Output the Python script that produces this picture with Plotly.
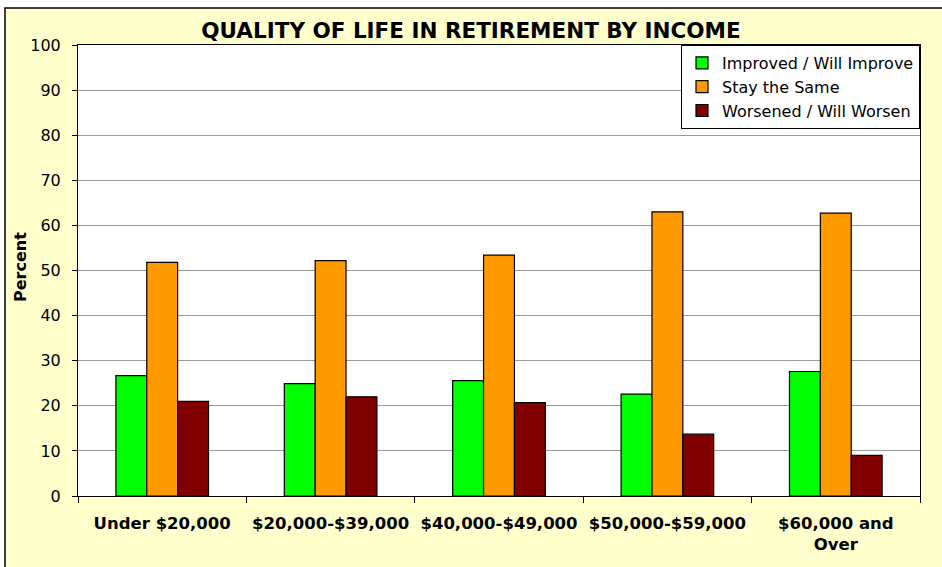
import plotly.graph_objects as go

categories = ["Under $20,000", "$20,000-$39,000", "$40,000-$49,000", "$50,000-$59,000", "$60,000 and<br>Over"]
improved = [26.7, 24.9, 25.6, 22.6, 27.6]
same = [51.8, 52.2, 53.4, 63.0, 62.7]
worsened = [21.0, 22.0, 20.7, 13.7, 9.0]

series_names = ["Improved / Will Improve", "Stay the Same", "Worsened / Will Worsen"]
series_values = [improved, same, worsened]
series_colors = ["#00FF00", "#FF9900", "#800000"]

W, H = 942, 567
L, R, T, B = 78, 920, 45, 496
pw, ph = R - L, B - T

def px_x(p):
    return (p - L) / pw

def px_y(p):
    return (B - p) / ph

fig = go.Figure()
for i, (name, vals, col) in enumerate(zip(series_names, series_values, series_colors)):
    fig.add_trace(go.Bar(
        x=categories, y=vals, name=name,
        marker=dict(color=col, line=dict(color="black", width=1.2)),
    ))

font_family = "DejaVu Sans, Arial, sans-serif"

fig.update_layout(
    width=W, height=H,
    margin=dict(l=L, r=W - R, t=T, b=H - B, pad=0),
    paper_bgcolor="white",
    plot_bgcolor="white",
    barmode="group",
    bargap=0.45,
    bargroupgap=0,
    font=dict(family=font_family, color="black"),
    title=dict(
        text="<b>QUALITY OF LIFE IN RETIREMENT BY INCOME</b>",
        x=0.5, xref="container", xanchor="center",
        y=1 - 30 / H, yref="container", yanchor="middle",
        font=dict(size=21.5, family=font_family, color="black"),
    ),
    legend=dict(
        x=1, xanchor="right", y=1, yanchor="top",
        bgcolor="white", bordercolor="black", borderwidth=1,
        font=dict(size=16, family=font_family, color="black"),
        tracegroupgap=0,
    ),
    showlegend=True,
    xaxis=dict(
        type="category",
        tickson="boundaries",
        ticks="outside", ticklen=6, tickcolor="black", tickwidth=1,
        showline=True, linecolor="black", linewidth=1, mirror=True,
        showgrid=False,
        ticklabelstandoff=12,
        tickfont=dict(size=16.5, family=font_family, color="black", weight="bold"),
    ),
    yaxis=dict(
        range=[0, 100], dtick=10,
        ticks="outside", ticklen=5, tickcolor="black", tickwidth=1,
        showline=True, linecolor="black", linewidth=1, mirror=True,
        showgrid=True, gridcolor="#999999", gridwidth=1,
        ticklabelstandoff=8,
        tickfont=dict(size=16, family=font_family, color="black"),
        zeroline=False,
    ),
    shapes=[
        dict(type="rect", xref="paper", yref="paper", layer="below",
             x0=px_x(5), x1=px_x(W + 20), y0=px_y(H + 20), y1=px_y(8),
             fillcolor="#FFFFCC", line=dict(color="black", width=1.5)),
        dict(type="rect", xref="paper", yref="paper", layer="below",
             x0=0, x1=1, y0=0, y1=1,
             fillcolor="white", line=dict(width=0)),
    ],
    annotations=[
        dict(text="<b>Percent</b>", xref="paper", yref="paper",
             x=px_x(20), y=px_y(267), xanchor="center", yanchor="middle",
             textangle=-90, showarrow=False,
             font=dict(size=16, family=font_family, color="black")),
    ],
)

fig.write_html(
    "out.html",
    config={"displayModeBar": False},
    post_script="document.body.style.margin='0';document.body.style.overflow='hidden';",
)
